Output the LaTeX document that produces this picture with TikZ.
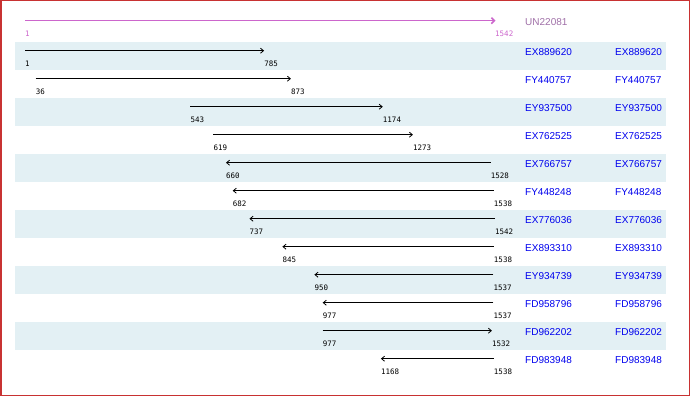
\documentclass[tikz,border=0pt]{standalone}
\usepackage{fontspec}
\setmainfont{Liberation Sans}
\newfontfamily\numfont{DejaVu Sans Mono}
\usetikzlibrary{arrows.meta}
\definecolor{band}{HTML}{E3F0F4}
\definecolor{frame}{HTML}{C83232}
\definecolor{mag}{HTML}{CC66CC}
\definecolor{unc}{HTML}{A070A8}
\definecolor{lnk}{HTML}{0000EE}
\begin{document}
\begin{tikzpicture}[x=1pt,y=-1pt,
  num/.style={font=\numfont\fontsize{7.5}{8}\selectfont, anchor=base west, inner sep=0pt},
  acc/.style={font=\fontsize{10}{12}\selectfont, text=lnk, anchor=base west, inner sep=0pt},
  hit/.style={draw=black, line width=0.8pt, -{Straight Barb[length=3pt,width=5pt]}},
  query/.style={draw=mag, line width=1.6pt, -{Straight Barb[length=3pt,width=6pt]}},
]
\useasboundingbox (0,0) rectangle (690,396);
\fill[white] (0,0) rectangle (690,396);
% query row
\coordinate (q0) at (25,20.7);
\coordinate (q1) at (495.5,20.7);
\draw[query] (q0) -- (q1);
\node[num, text=mag] (qa) at (25,36.3) {1};
\node[num, text=mag] (qb) at (495,36.3) {1542};
\node[acc, text=unc] (qn) at (525,26) {UN22081};
% hit rows
\foreach \i/\a/\b/\fw/\nm in {
  1/1/785/1/EX889620,
  2/36/873/1/FY440757,
  3/543/1174/1/EY937500,
  4/619/1273/1/EX762525,
  5/660/1528/0/EX766757,
  6/682/1538/0/FY448248,
  7/737/1542/0/EX776036,
  8/845/1538/0/EX893310,
  9/950/1537/0/EY934739,
  10/977/1537/0/FD958796,
  11/977/1532/1/FD962202,
  12/1168/1538/0/FD983948}{
  \pgfmathsetmacro\T{42+(\i-1)*28}
  \pgfmathsetmacro\xa{25+(\a-1)*0.305}
  \pgfmathsetmacro\xb{25+(\b-1)*0.305}
  \ifodd\i \fill[band] (15,\T) rectangle (666,\T+28); \fi
  \coordinate (s\i) at (\xa,\T+8.7);
  \coordinate (e\i) at (\xb,\T+8.7);
  \ifnum\fw=1
    \draw[hit] (s\i) -- (e\i);
  \else
    \draw[hit] (e\i) -- (s\i);
  \fi
  \node[num] (na\i) at (\xa,\T+24.3) {\a};
  \node[num] (nb\i) at (\xb,\T+24.3) {\b};
  \node[acc] (l\i) at (525,\T+13.5) {\nm};
  \node[acc] (r\i) at (615,\T+13.5) {\nm};
}
\draw[frame, line width=1.5pt] (0.75,0.75) rectangle (689.25,395.25);
\end{tikzpicture}
\end{document}
